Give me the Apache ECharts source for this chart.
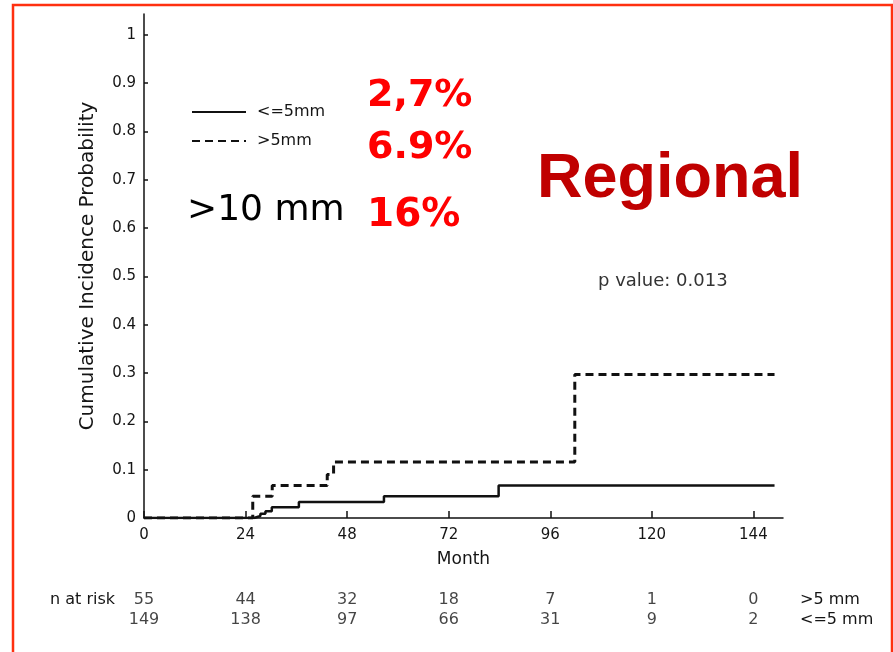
<!DOCTYPE html>
<html>
<head>
<meta charset="utf-8">
<script src="https://cdn.jsdelivr.net/npm/echarts@6/dist/echarts.min.js"></script>
<style>
  html, body { margin: 0; padding: 0; background: #ffffff; }
  #chart { width: 893px; height: 652px; }
</style>
</head>
<body>
<div id="chart"></div>
<script>
// Cumulative incidence step curves (month of event, cumulative probability)
const smallMonths = [0, 26, 27.5, 28.7, 30.2, 36.6, 56.7, 83.8, 149];
const smallValues = [0, 0.004, 0.009, 0.014, 0.022, 0.033, 0.045, 0.067, 0.067];
const largeMonths = [0, 25.7, 30.3, 43.3, 44.8, 101.8, 149];
const largeValues = [0, 0.045, 0.067, 0.09, 0.116, 0.297, 0.297];

// Axis ticks
const monthTicks = [0, 24, 48, 72, 96, 120, 144];
const probTicks = [0, 0.1, 0.2, 0.3, 0.4, 0.5, 0.6, 0.7, 0.8, 0.9, 1];
const probLabels = ['0', '0.1', '0.2', '0.3', '0.4', '0.5', '0.6', '0.7', '0.8', '0.9', '1'];

// Numbers at risk at each tick month
const riskMonths = [0, 24, 48, 72, 96, 120, 144];
const riskLarge = [55, 44, 32, 18, 7, 1, 0];
const riskSmall = [149, 138, 97, 66, 31, 9, 2];
const groupNames = ['<=5mm', '>5mm'];
const riskRows = ['>5 mm', '<=5 mm'];

const FONT = 'DejaVu Sans';
const INK = '#151515';

const toPairs = (xs, ys) => xs.map((x, i) => [x, ys[i]]);
const riskData = riskMonths.map((m, i) => [m, riskRows[0], riskLarge[i]])
  .concat(riskMonths.map((m, i) => [m, riskRows[1], riskSmall[i]]));

const chart = echarts.init(document.getElementById('chart'), null, { renderer: 'canvas' });

chart.setOption({
  backgroundColor: '#ffffff',
  animation: false,
  grid: [
    { left: 144, top: 14, width: 639, height: 504 },
    { left: 144, top: 590, width: 639, height: 40 }
  ],
  legend: {
    data: groupNames,
    orient: 'vertical',
    left: 186,
    top: 99,
    itemWidth: 54,
    itemHeight: 10,
    itemGap: 13,
    itemStyle: { opacity: 0 },
    textStyle: { fontFamily: FONT, fontSize: 16, color: INK, padding: [0, 0, 0, 6] }
  },
  xAxis: [
    {
      gridIndex: 0,
      type: 'value',
      min: 0,
      max: 151,
      name: 'Month',
      nameLocation: 'middle',
      nameGap: 33,
      nameTextStyle: { fontFamily: FONT, fontSize: 17, color: INK },
      axisLine: { lineStyle: { color: '#111', width: 1.5 } },
      axisTick: { inside: true, length: 7, customValues: monthTicks, lineStyle: { color: '#111', width: 1.5 } },
      axisLabel: { customValues: monthTicks, margin: 10, fontFamily: FONT, fontSize: 15, color: INK },
      splitLine: { show: false }
    },
    { gridIndex: 1, type: 'value', min: 0, max: 151, show: false }
  ],
  yAxis: [
    {
      gridIndex: 0,
      type: 'value',
      min: 0,
      max: 1.043,
      name: 'Cumulative Incidence Probability',
      nameLocation: 'middle',
      nameGap: 46,
      nameTextStyle: { fontFamily: FONT, fontSize: 20, color: INK },
      axisLine: { show: true, lineStyle: { color: '#111', width: 1.5 } },
      axisTick: { show: true, inside: true, length: 4, customValues: probTicks, lineStyle: { color: '#111', width: 1.5 } },
      axisLabel: {
        customValues: probTicks,
        margin: 8,
        fontFamily: FONT,
        fontSize: 15,
        color: INK,
        formatter: v => probLabels[probTicks.findIndex(t => Math.abs(t - v) < 1e-6)]
      },
      splitLine: { show: false }
    },
    {
      gridIndex: 1,
      type: 'category',
      data: riskRows,
      inverse: true,
      axisLine: { show: false },
      axisTick: { show: false },
      axisLabel: {
        interval: 0,
        margin: 29,
        fontFamily: FONT,
        fontSize: 16,
        color: INK,
        formatter: v => (v === riskRows[0] ? 'n at risk' : '')
      }
    },
    {
      gridIndex: 1,
      type: 'category',
      position: 'right',
      data: riskRows,
      inverse: true,
      axisLine: { show: false },
      axisTick: { show: false },
      axisLabel: { interval: 0, margin: 17, fontFamily: FONT, fontSize: 16, color: INK }
    }
  ],
  series: [
    {
      name: groupNames[0],
      type: 'line',
      step: 'end',
      symbol: 'none',
      xAxisIndex: 0,
      yAxisIndex: 0,
      data: toPairs(smallMonths, smallValues),
      lineStyle: { color: '#111', width: 2.5 },
      itemStyle: { color: '#111' }
    },
    {
      name: groupNames[1],
      type: 'line',
      step: 'end',
      symbol: 'none',
      xAxisIndex: 0,
      yAxisIndex: 0,
      data: toPairs(largeMonths, largeValues),
      lineStyle: { color: '#111', width: 3, type: [8, 5] },
      itemStyle: { color: '#111' }
    },
    {
      type: 'scatter',
      xAxisIndex: 1,
      yAxisIndex: 1,
      symbolSize: 1,
      itemStyle: { color: 'rgba(0,0,0,0)' },
      data: riskData,
      label: {
        show: true,
        position: 'inside',
        formatter: p => String(p.value[2]),
        fontFamily: FONT,
        fontSize: 16,
        color: INK
      },
      silent: true
    }
  ],
  graphic: [
    {
      type: 'rect',
      shape: { x: 13, y: 5, width: 879, height: 660 },
      style: { fill: 'none', stroke: '#ff3010', lineWidth: 2.5 },
      silent: true
    },
    {
      type: 'text',
      x: 367, y: 96,
      style: { text: '2,7%', font: 'bold 38px "DejaVu Sans"', fill: '#ff0000', align: 'left', verticalAlign: 'middle' }
    },
    {
      type: 'text',
      x: 367, y: 148,
      style: { text: '6.9%', font: 'bold 38px "DejaVu Sans"', fill: '#ff0000', align: 'left', verticalAlign: 'middle' }
    },
    {
      type: 'text',
      x: 187, y: 211,
      style: { text: '>10 mm', font: '36px "DejaVu Sans"', fill: '#000000', align: 'left', verticalAlign: 'middle' }
    },
    {
      type: 'text',
      x: 367, y: 216,
      style: { text: '16%', font: 'bold 39px "DejaVu Sans"', fill: '#ff0000', align: 'left', verticalAlign: 'middle' }
    },
    {
      type: 'text',
      x: 537, y: 180,
      style: { text: 'Regional', font: 'bold 63px "Liberation Sans"', fill: '#c00000', align: 'left', verticalAlign: 'middle' }
    },
    {
      type: 'text',
      x: 598, y: 281,
      style: { text: 'p value: 0.013', font: '18px "DejaVu Sans"', fill: '#333', align: 'left', verticalAlign: 'middle' }
    }
  ]
});
</script>
</body>
</html>
